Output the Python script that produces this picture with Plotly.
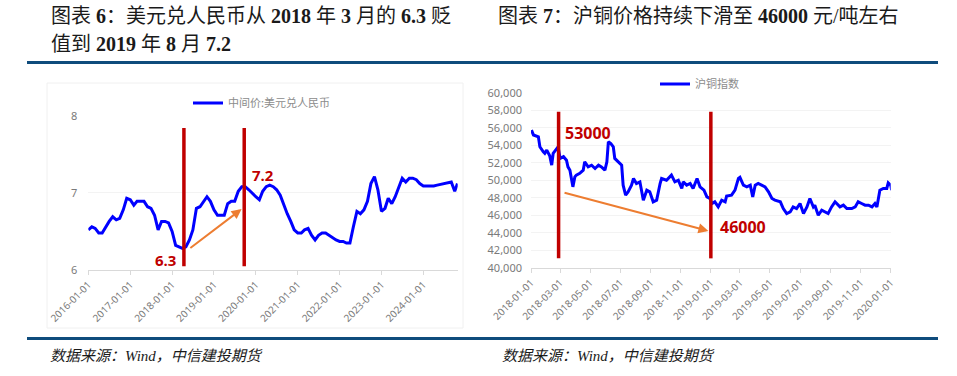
import plotly.graph_objects as go
import pandas as pd

# ---------------- data ----------------
# USD/CNY central parity, monthly (2016-01 .. 2024-10) + last point
fx_dates = list(pd.date_range("2016-01-01", "2024-10-01", freq="MS").strftime("%Y-%m-%d")) + ["2024-10-25"]
fx_values = [
    6.52, 6.56, 6.54, 6.48, 6.48, 6.56, 6.63, 6.69, 6.65, 6.67, 6.78, 6.93,
    6.91, 6.84, 6.89, 6.89, 6.89, 6.82, 6.80, 6.71, 6.52, 6.63, 6.63, 6.61,
    6.50, 6.32, 6.30, 6.28, 6.30, 6.39, 6.52, 6.80, 6.82, 6.89, 6.95, 6.89,
    6.78, 6.71, 6.71, 6.71, 6.86, 6.89, 6.89, 7.02, 7.08, 7.08, 7.04, 6.99,
    6.95, 6.91, 7.02, 7.08, 7.10, 7.08, 7.04, 6.97, 6.84, 6.73, 6.63, 6.52,
    6.48, 6.48, 6.52, 6.54, 6.45, 6.39, 6.45, 6.48, 6.48, 6.45, 6.41, 6.39,
    6.37, 6.37, 6.35, 6.35, 6.56, 6.76, 6.73, 6.78, 6.89, 7.12, 7.21, 7.04,
    6.76, 6.80, 6.93, 6.86, 6.95, 7.08, 7.19, 7.14, 7.19, 7.19, 7.17, 7.12,
    7.09, 7.09, 7.09, 7.09, 7.10, 7.11, 7.11, 7.13, 7.14, 7.02, 7.12,
]

# SHFE copper index (yuan/ton)
cu_dates = [
    "2018-01-02", "2018-01-06", "2018-01-16", "2018-01-19", "2018-01-26", "2018-01-29",
    "2018-02-02", "2018-02-08", "2018-02-12", "2018-02-15", "2018-02-25", "2018-03-01",
    "2018-03-08", "2018-03-14", "2018-03-17", "2018-03-21", "2018-03-27", "2018-03-31",
    "2018-04-03", "2018-04-10", "2018-04-17", "2018-04-20", "2018-04-27", "2018-05-04",
    "2018-05-11", "2018-05-18", "2018-05-24", "2018-05-31", "2018-06-04", "2018-06-07",
    "2018-06-12", "2018-06-17", "2018-06-20", "2018-06-27", "2018-07-04", "2018-07-07",
    "2018-07-12", "2018-07-17", "2018-07-24", "2018-07-28", "2018-08-03", "2018-08-10",
    "2018-08-17", "2018-08-24", "2018-08-30", "2018-09-06", "2018-09-13", "2018-09-20",
    "2018-09-23", "2018-10-03", "2018-10-13", "2018-10-20", "2018-10-27", "2018-11-03",
    "2018-11-06", "2018-11-13", "2018-11-20", "2018-11-26", "2018-12-04", "2018-12-10",
    "2018-12-13", "2018-12-18", "2018-12-24", "2018-12-30",
    "2019-01-03", "2019-01-09", "2019-01-16", "2019-01-23", "2019-01-30", "2019-02-02",
    "2019-02-12", "2019-02-19", "2019-02-26", "2019-03-01", "2019-03-08", "2019-03-15",
    "2019-03-22", "2019-03-27", "2019-04-01", "2019-04-07", "2019-04-14", "2019-04-21",
    "2019-04-28", "2019-05-05", "2019-05-11", "2019-05-22", "2019-05-28", "2019-06-04",
    "2019-06-11", "2019-06-17", "2019-06-24", "2019-07-01", "2019-07-08", "2019-07-15",
    "2019-07-21", "2019-07-28", "2019-07-31", "2019-08-07", "2019-08-14", "2019-08-21",
    "2019-08-27", "2019-09-03", "2019-09-10", "2019-09-20", "2019-09-27", "2019-10-04",
    "2019-10-14", "2019-10-21", "2019-10-27", "2019-11-03", "2019-11-10", "2019-11-17",
    "2019-11-24", "2019-11-30", "2019-12-04", "2019-12-10", "2019-12-17", "2019-12-24",
    "2019-12-27", "2020-01-01", "2020-01-03",
]
cu_values = [
    55740, 55170, 54970, 53830, 53260, 53080,
    53450, 52800, 51740, 53080, 53830, 52500,
    52700, 52300, 51540, 51160, 49260, 50400,
    50600, 50800, 51160, 52120, 51540, 51730,
    51350, 51730, 51540, 51160, 52120, 54400,
    54200, 53830, 52500, 52120, 51730, 49450,
    48310, 48690, 49450, 50210, 49640, 49830,
    47740, 48880, 48690, 47550, 47740, 49640,
    50210, 50020, 50600, 49830, 50020, 49070,
    49830, 49450, 49640, 49070, 50210, 49260,
    49070, 48880, 48120, 47930,
    47360, 47550, 46970, 47740, 47550, 48200,
    48310, 48880, 50220, 50340, 49450, 49260,
    49450, 48120, 49450, 49640, 49450, 49260,
    48690, 47930, 47740, 47550, 46780, 46210,
    46400, 46970, 46780, 47360, 46210, 46970,
    47930, 46970, 47170, 46020, 46590, 46400,
    46210, 46970, 47550, 46970, 47170, 46780,
    46780, 46970, 47550, 47360, 47170, 47170,
    46970, 47360, 46970, 48880, 49070, 49070,
    49720, 49450, 48880,
]

# annotation values
fx_marks = ["2018-04-14", "2019-09-22"]
fx_mark_span = [6.05, 7.84]
fx_labels = [("2017-11-01", 6.13, "6.3"), ("2020-03-05", 7.23, "7.2")]
fx_arrow = [("2018-05-27", 6.27), ("2019-08-30", 6.79)]

cu_marks = ["2018-02-26", "2019-01-01"]
cu_mark_span = [41100, 57830]
cu_labels = [("2018-04-26", 55370, "53000"), ("2019-03-07", 44710, "46000")]
cu_arrow = [("2018-03-07", 48640), ("2018-12-27", 44220)]

W, H = 957, 376
def px(x):
    return x / W
def py(y):
    return (H - y) / H

RED = "#C00000"
ORANGE = "#ED7D31"
BLUE = "#0000FF"
GRAY = "#7a7a7a"
RULE = "#0F4C7C"
CJK = "Noto Sans CJK SC"
TITLE_FONT = "Liberation Serif, Noto Sans CJK SC"

fig = go.Figure()
fig.add_trace(go.Scatter(x=fx_dates, y=fx_values, mode="lines", name="中间价:美元兑人民币",
                         line=dict(color=BLUE, width=3), xaxis="x", yaxis="y", legend="legend"))
fig.add_trace(go.Scatter(x=cu_dates, y=cu_values, mode="lines", name="沪铜指数",
                         line=dict(color=BLUE, width=3), xaxis="x2", yaxis="y2", legend="legend2"))

tickfont = dict(family="Noto Sans, sans-serif", size=10, color=GRAY)
common_x = dict(type="date", showline=True, linecolor="#d9d9d9", linewidth=1, ticks="outside",
                ticklen=4, tickcolor="#d9d9d9", tickangle=-45, tickformat="%Y-%m-%d",
                showgrid=False, zeroline=False, tickfont=tickfont, automargin=False)
common_y = dict(showline=False, ticks="", showgrid=True, gridcolor="#f3f3f3", zeroline=False,
                automargin=False,
                tickfont=dict(family="Noto Sans, sans-serif", size=11, color=GRAY))

shapes = []
# red vertical markers
for d in fx_marks:
    shapes.append(dict(type="line", xref="x", yref="y", x0=d, x1=d, y0=fx_mark_span[0], y1=fx_mark_span[1],
                       line=dict(color=RED, width=3.5)))
for d in cu_marks:
    shapes.append(dict(type="line", xref="x2", yref="y2", x0=d, x1=d, y0=cu_mark_span[0], y1=cu_mark_span[1],
                       line=dict(color=RED, width=3.5)))
# rule lines
for yy in (62.5, 338.5):
    shapes.append(dict(type="line", xref="paper", yref="paper", x0=px(27), x1=px(938), y0=py(yy), y1=py(yy),
                       line=dict(color=RULE, width=3)))
# faint chart frame (left)
shapes.append(dict(type="rect", xref="paper", yref="paper", x0=px(47), x1=px(463), y0=py(328), y1=py(83),
                   line=dict(color="#f0f0f0", width=1)))

annotations = []
for (x, y, t) in fx_labels:
    annotations.append(dict(x=x, y=y, xref="x", yref="y", text=f"<b>{t}</b>", showarrow=False,
                            font=dict(family="Open Sans", size=15, color=RED)))
for (x, y, t) in cu_labels:
    annotations.append(dict(x=x, y=y, xref="x2", yref="y2", text=f"<b>{t}</b>", showarrow=False,
                            font=dict(family="Open Sans", size=16, color=RED)))
annotations.append(dict(x=fx_arrow[1][0], y=fx_arrow[1][1], ax=fx_arrow[0][0], ay=fx_arrow[0][1],
                        xref="x", yref="y", axref="x", ayref="y", showarrow=True, text="",
                        arrowhead=2, arrowsize=1, arrowwidth=2, arrowcolor=ORANGE))
annotations.append(dict(x=cu_arrow[1][0], y=cu_arrow[1][1], ax=cu_arrow[0][0], ay=cu_arrow[0][1],
                        xref="x2", yref="y2", axref="x2", ayref="y2", showarrow=True, text="",
                        arrowhead=2, arrowsize=1, arrowwidth=2, arrowcolor=ORANGE))

def txt(x, y, text, size, color="#1a1a1a", family=TITLE_FONT):
    annotations.append(dict(x=px(x), y=py(y), xref="paper", yref="paper", xanchor="left", yanchor="middle",
                            text=text, showarrow=False, font=dict(family=family, size=size, color=color)))

txt(49, 16, "图表 <b>6</b>：美元兑人民币从 <b>2018</b> 年 <b>3</b> 月的 <b>6.3</b> 贬", 20)
txt(49, 44, "值到 <b>2019</b> 年 <b>8</b> 月 <b>7.2</b>", 20)
txt(496, 16, "图表 <b>7</b>：沪铜价格持续下滑至 <b>46000</b> 元/吨左右", 20)
txt(48, 356, "<i>数据来源：Wind，中信建投期货</i>", 15)
txt(500, 356, "<i>数据来源：Wind，中信建投期货</i>", 15)

legend_common = dict(orientation="h", xanchor="left", yanchor="middle", bgcolor="rgba(0,0,0,0)",
                     itemwidth=30, font=dict(family=CJK, size=11, color="#8c8c8c"))

fig.update_layout(
    width=W, height=H,
    margin=dict(l=0, r=0, t=0, b=0, autoexpand=False),
    paper_bgcolor="white", plot_bgcolor="white",
    separators=".,",
    showlegend=True,
    legend=dict(x=px(188), y=py(103), **legend_common),
    legend2=dict(x=px(655), y=py(84), **legend_common),
    xaxis=dict(domain=[px(88.3), px(457.7)], range=["2016-01-01", "2024-10-27"],
               dtick="M12", tick0="2016-01-01", anchor="y", **common_x),
    yaxis=dict(domain=[py(270), py(115.7)], range=[6, 8], tickvals=[6, 7, 8], anchor="x",
               ticklabelstandoff=10, **common_y),
    xaxis2=dict(domain=[px(531), px(890.7)], range=["2018-01-01", "2020-01-01"],
                dtick="M2", tick0="2018-01-01", anchor="y2", **common_x),
    yaxis2=dict(domain=[py(268), py(92.7)], range=[40000, 60000], dtick=2000, tickformat=",d",
                anchor="x2", ticklabelstandoff=8, **common_y),
    shapes=shapes,
    annotations=annotations,
)

# remove the browser's default 8px page margin so the 957x376 figure fills the window
fig.write_html("out.html",
               config={"displayModeBar": False},
               post_script="document.body.style.margin='0';document.body.style.overflow='hidden';")
